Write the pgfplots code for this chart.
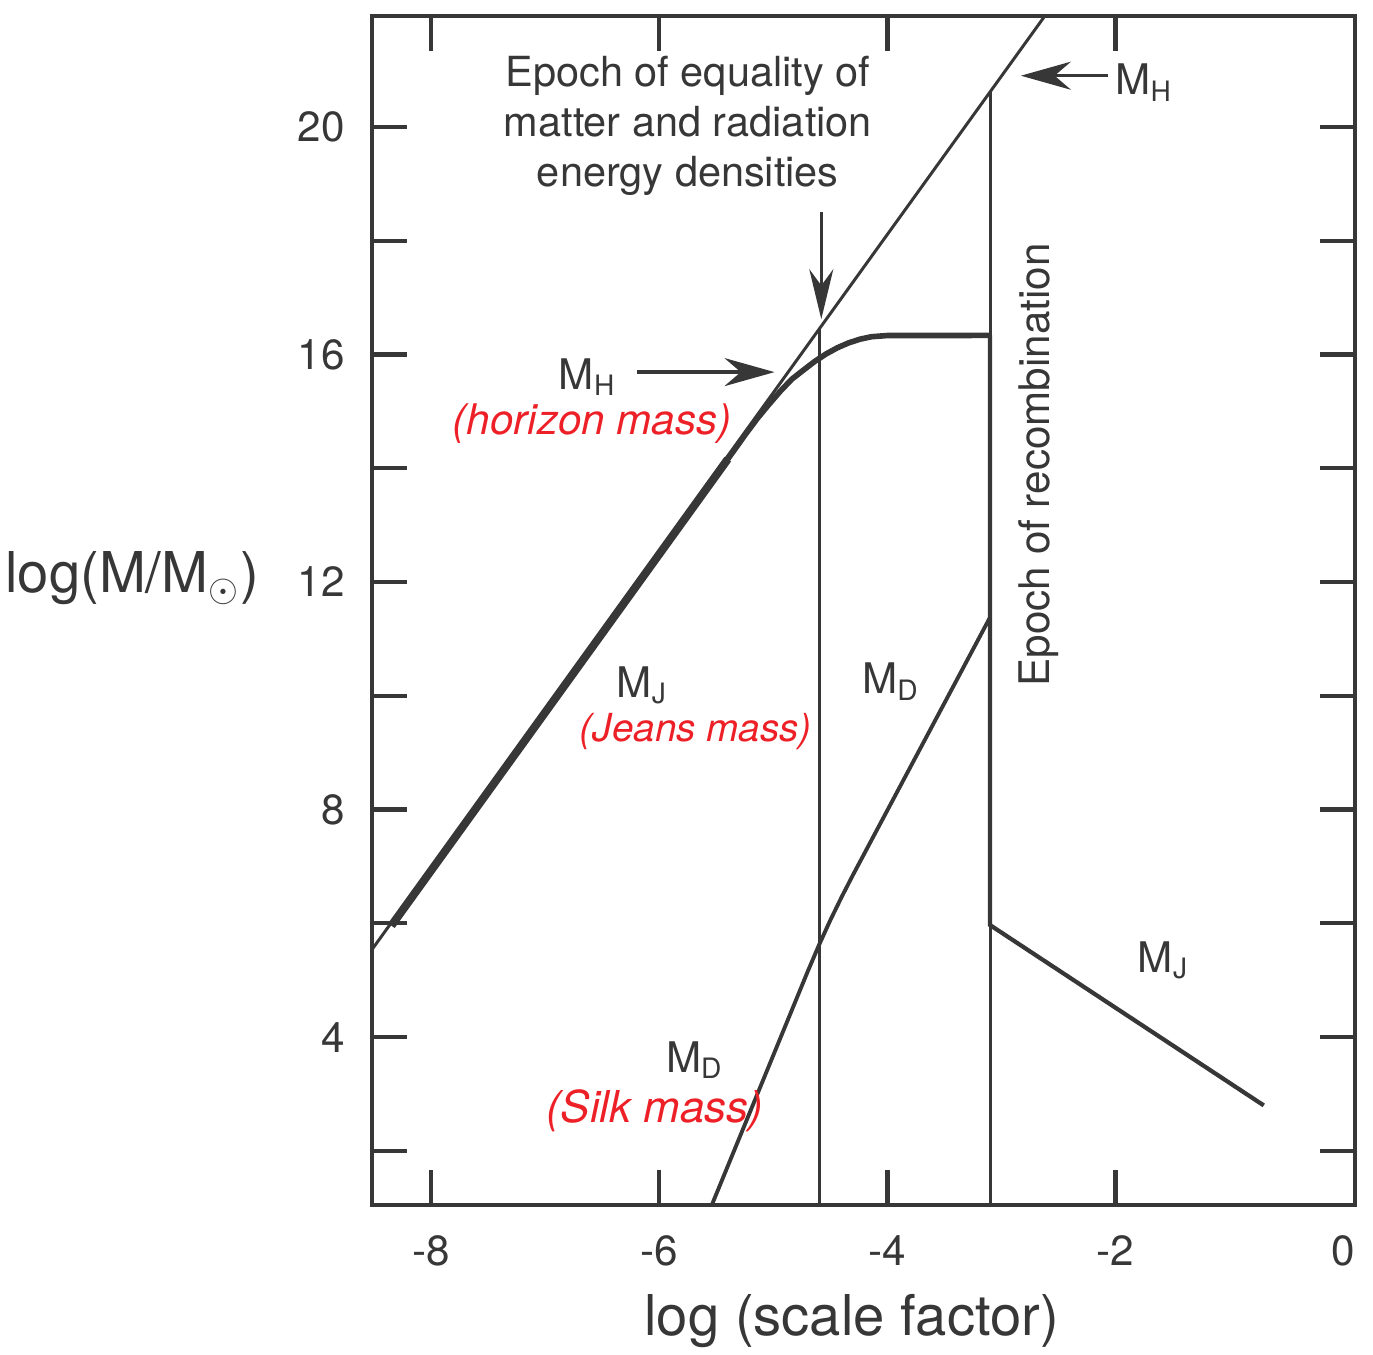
\documentclass[border=0pt]{standalone}
\usepackage{pgfplots}
\pgfplotsset{compat=1.18}
\usepackage{fontspec}
\setmainfont{TeX Gyre Heros}
\usetikzlibrary{arrows.meta}
\definecolor{ink}{RGB}{55,55,55}
\definecolor{hand}{RGB}{236,32,38}
\begin{document}
\begin{tikzpicture}
\begin{axis}[
  scale only axis, width=98.3mm, height=118.9mm,
  at={(0,0)}, anchor=south west,
  xmin=-8.52, xmax=0.1, ymin=1.05, ymax=21.95,
  axis line style={line width=1.4pt, color=ink},
  every tick/.style={line width=1.2pt, color=ink},
  major tick length=3.5mm, minor tick length=3.5mm,
  tick align=inside,
  xtick pos=both, ytick pos=both,
  xticklabel pos=left, yticklabel pos=left,
  xtick={-8,-6,-4,-2}, xticklabels={-8,-6,-4,-2},
  extra x ticks={0}, extra x tick labels={0},
  extra x tick style={major tick length=0pt},
  ytick={4,8,12,16,20}, yticklabels={4,8,12,16,20},
  minor ytick={2,6,10,14,18},
  tick label style={font=\fontsize{12}{14}\selectfont, text=ink},
  xticklabel style={yshift=-1.8mm},
  yticklabel style={xshift=-1.5mm},
  xlabel={log (scale factor)},
  xlabel style={font=\fontsize{16}{18}\selectfont, text=ink, at={(axis description cs:0.488,-0.098)}, anchor=center},
  ylabel={log(M/M$_{\odot}$)},
  ylabel style={font=\fontsize{16}{18}\selectfont, text=ink, rotate=-90, at={(axis description cs:-0.244,0.527)}, anchor=center},
  clip=true,
]
% horizon mass
\addplot[ink, line width=0.85pt] coordinates {(-8.52,5.54) (-2.62,21.95)};
% Jeans mass, thick radiation-era part
\addplot[ink, line width=2.3pt] coordinates {(-8.35,5.96) (-5.40,14.16)};
% Jeans mass, turnover and plateau
\addplot[ink, line width=1.6pt] coordinates {
 (-5.50,13.89) (-5.40,14.16) (-5.24,14.61) (-5.14,14.878) (-5.04,15.121) (-4.94,15.353) (-4.84,15.563)
 (-4.74,15.72) (-4.64,15.874) (-4.54,16.007) (-4.44,16.117) (-4.34,16.204)
 (-4.24,16.269) (-4.14,16.312) (-4.0,16.333) (-3.1,16.335)};
% Jeans mass drop at recombination and after
\addplot[ink, line width=1.2pt] coordinates {(-3.1,16.335) (-3.1,5.97) (-0.70,2.80)};
% recombination vertical
\addplot[ink, line width=0.85pt] coordinates {(-3.1,1.05) (-3.1,20.62)};
% equality vertical
\addplot[ink, line width=0.85pt] coordinates {(-4.6,1.05) (-4.6,16.44)};
% Silk mass
\addplot[ink, line width=1.1pt] coordinates {
 (-5.54,1.05) (-4.7,5.15) (-4.6,5.62) (-4.5,6.06) (-4.4,6.47) (-4.3,6.86) (-3.1,11.38)};

% annotations
\node[align=center, text=ink, font=\fontsize{11.8}{14.3}\selectfont] at (axis cs:-5.75,20.02)
  {Epoch of equality of\\matter and radiation\\energy densities};
\draw[ink, line width=1pt, -{Stealth[length=5mm,width=2.4mm]}] (axis cs:-4.58,18.5) -- (axis cs:-4.58,16.62);
\draw[ink, line width=1pt, -{Stealth[length=5mm,width=2.8mm]}] (axis cs:-6.2,15.69) -- (axis cs:-4.99,15.69);
\draw[ink, line width=1pt, -{Stealth[length=5mm,width=2.8mm]}] (axis cs:-2.07,20.9) -- (axis cs:-2.83,20.9);

\node[text=ink, font=\fontsize{12}{14}\selectfont] at (axis cs:-1.75,20.78) {M\textsubscript{H}};
\node[text=ink, font=\fontsize{12}{14}\selectfont] at (axis cs:-6.63,15.6) {M\textsubscript{H}};
\node[text=hand, font=\fontsize{12}{14}\selectfont\itshape] at (axis cs:-6.59,14.78) {(horizon mass)};
\node[text=ink, font=\fontsize{12}{14}\selectfont] at (axis cs:-6.15,10.18) {M\textsubscript{J}};
\node[text=hand, font=\fontsize{11}{14}\selectfont\itshape] at (axis cs:-5.68,9.37) {(Jeans mass)};
\node[text=ink, font=\fontsize{12}{14}\selectfont] at (axis cs:-3.97,10.25) {M\textsubscript{D}};
\node[text=ink, font=\fontsize{12}{14}\selectfont] at (axis cs:-1.58,5.35) {M\textsubscript{J}};
\node[text=ink, font=\fontsize{12}{14}\selectfont] at (axis cs:-5.69,3.60) {M\textsubscript{D}};
\node[text=hand, font=\fontsize{12.5}{14}\selectfont\itshape] at (axis cs:-6.04,2.70) {(Silk mass)};
\node[rotate=90, text=ink, font=\fontsize{12}{14}\selectfont] at (axis cs:-2.67,14.06) {Epoch of recombination};
\end{axis}
\pgfresetboundingbox
\path (-37.2mm,-15mm) rectangle (100.1mm,120.5mm);
\end{tikzpicture}
\end{document}
